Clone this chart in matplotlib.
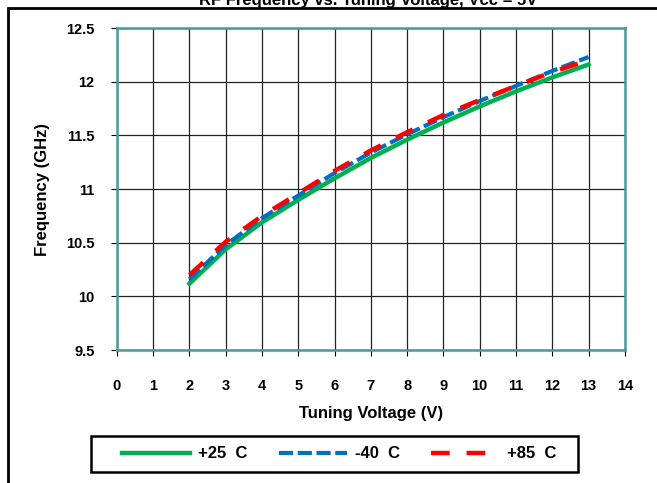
import matplotlib
matplotlib.use("Agg")
import matplotlib.pyplot as plt
from matplotlib.patches import Rectangle

plt.rcParams['font.family'] = ['Liberation Sans', 'DejaVu Sans']
plt.rcParams['font.weight'] = 'bold'

# Tuning voltage (V) and frequency (GHz) at three temperatures
volts = [2, 3, 4, 5, 6, 7, 8, 9, 10, 11, 12, 13]
f_25 = [10.12, 10.44, 10.69, 10.90, 11.10, 11.29, 11.46, 11.62, 11.77, 11.91, 12.04, 12.16]
f_m40 = [10.16, 10.48, 10.73, 10.94, 11.15, 11.34, 11.51, 11.67, 11.82, 11.96, 12.10, 12.23]
f_85 = [10.20, 10.51, 10.75, 10.96, 11.17, 11.36, 11.53, 11.69, 11.83, 11.96, 12.09, 12.20]

fig = plt.figure(figsize=(6.57, 4.83), dpi=100)
ax = fig.add_axes([0.178, 0.275, 0.773, 0.667])

ax.plot(volts, f_25, color='#00b050', lw=3.2, label='+25  C', zorder=3)
ax.plot(volts, f_m40, color='#0070c0', lw=3.0, dashes=(3.4, 1.1), label='-40  C', zorder=4)
ax.plot(volts, f_85, color='#ff0000', lw=3.2, dashes=(4.2, 3.8), label='+85  C', zorder=5)

ax.set_xlim(0, 14)
ax.set_ylim(9.5, 12.5)
ax.set_xticks(range(0, 15))
ax.set_yticks([9.5, 10, 10.5, 11, 11.5, 12, 12.5])
ax.set_yticklabels(['9.5', '10', '10.5', '11', '11.5', '12', '12.5'])
ax.grid(True, color='#222222', lw=0.9)
ax.set_axisbelow(True)
for s in ax.spines.values():
    s.set_color('#4a9a9a')
    s.set_linewidth(1.8)
ax.tick_params(axis='both', labelsize=10.5, length=4, color='black', width=0.8)
ax.tick_params(axis='x', pad=17)
ax.tick_params(axis='y', pad=12)

ax.set_xlabel('Tuning Voltage (V)', fontsize=12, fontweight='bold', labelpad=9)
ax.set_ylabel('Frequency (GHz)', fontsize=12, fontweight='bold', labelpad=12)

fig.text(0.56, 1.0, 'RF Frequency vs. Tuning Voltage, Vcc = 5V', ha='center', va='center',
         fontsize=12, fontweight='bold')

# legend entries without frame, box drawn separately
leg = ax.legend(loc='center left', bbox_to_anchor=(122 / 657, 1 - 454 / 483),
                bbox_transform=fig.transFigure, borderaxespad=0, borderpad=0,
                ncol=3, frameon=False, fontsize=12,
                handlelength=4.1, columnspacing=1.9, handletextpad=0.45)
fig.patches.append(Rectangle((91 / 657, 1 - 472 / 483), 487 / 657, 36 / 483,
                             transform=fig.transFigure, fill=False, edgecolor='black', lw=1.8))

fig.patches.append(Rectangle((8 / 657, -0.1), 1.2, 1 - 8 / 483 + 0.1, transform=fig.transFigure,
                             fill=False, edgecolor='black', lw=2))

fig.savefig('out.png', dpi=100)
